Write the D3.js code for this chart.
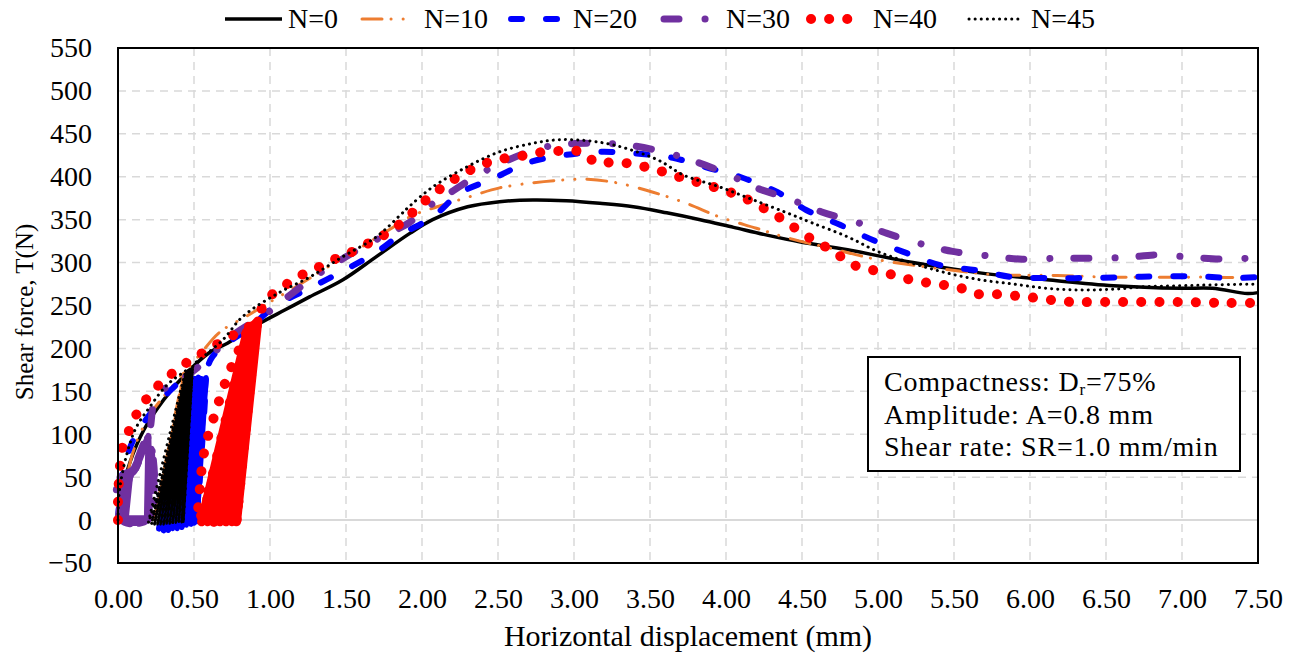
<!DOCTYPE html>
<meta charset="utf-8">
<style>
body { margin: 0; background: #fff; }
text { font-family: "Liberation Serif", "Times New Roman", serif; fill: #000; }
.grid line { stroke: #d9d9d9; stroke-width: 1.5; stroke-dasharray: 8,6; }
.curve, .loops { fill: none; stroke-linejoin: round; }
.note text { font-size: 28px; letter-spacing: 0.8px; }
</style>
<body>
<script src="https://cdn.jsdelivr.net/npm/d3@7/dist/d3.min.js"></script>
<script>

var width = 1297;
var height = 657;
var margin = {top: 48, right: 39, bottom: 94, left: 118};

var xTicks = [0, 0.5, 1, 1.5, 2, 2.5, 3, 3.5, 4, 4.5, 5, 5.5, 6, 6.5, 7, 7.5];
var yTicks = [-50, 0, 50, 100, 150, 200, 250, 300, 350, 400, 450, 500, 550];
var names = ['N=0', 'N=10', 'N=20', 'N=30', 'N=40', 'N=45'];

// [displacement mm, shear force N]; cyclic loops first, then monotonic shearing
var n0 = [[0,0],[0.03,35],[0.08,68],[0.17,105],[0.3,140],[0.45,171],[0.6,195],[0.72,206],[0.93,229],
  [1.1,245],[1.26,260],[1.48,280],[1.7,307],[1.92,334],[2.07,350],[2.3,365],[2.51,371],[2.73,373],
  [2.95,372],[3.17,369],[3.39,365],[3.61,358],[3.83,350],[4.05,341],[4.27,332],[4.49,324],[4.8,315],
  [5.23,300],[5.67,288],[6.11,280],[6.55,273],[6.99,270],[7.2,270],[7.43,264],[7.5,265]];

var n10 = [[0,0],[0.05,45],[0.12,90],[0.22,125],[0.33,150],[0.45,172],[0.24,0],[0.43,168],[0.27,0],
  [0.44,170],[0.3,0],[0.45,171],[0.33,2],[0.46,172],[0.36,2],[0.47,174],[0.39,3],[0.47,175],
  [0.55,195],[0.67,219],[0.85,238],[1.0,254],[1.2,275],[1.4,297],[1.6,318],[1.8,340],[1.94,355],
  [2.1,365],[2.3,376],[2.51,387],[2.73,393],[2.91,396],[3.09,397],[3.28,393],[3.52,382],[3.74,369],
  [3.96,353],[4.2,340],[4.4,329],[4.68,317],[5.01,303],[5.36,294],[5.76,286],[6.18,285],[6.55,283],
  [7.2,283],[7.5,282]];

var n20 = [[0,0],[0.03,55],[0.1,93],[0.23,128],[0.35,152],[0.47,168],[0.27,-10],[0.5,165],[0.3,-12],
  [0.51,165],[0.33,-12],[0.52,165],[0.36,-10],[0.53,166],[0.39,-10],[0.54,165],[0.42,-8],[0.55,165],
  [0.45,-6],[0.56,164],[0.48,-5],[0.57,164],[0.5,-3],[0.58,165],[0.52,-2],[0.58,166],[0.62,190],
  [0.87,225],[1.04,250],[1.26,270],[1.5,292],[1.7,312],[1.855,332],[2.07,353],[2.25,381],[2.47,398],
  [2.69,416],[2.93,425],[3.17,429],[3.41,427],[3.65,422],[3.87,411],[4.09,400],[4.34,382],[4.53,361],
  [4.75,344],[4.97,326],[5.19,311],[5.41,297],[5.65,291],[5.89,283],[6.13,282],[6.37,282],[6.61,283],
  [6.86,284],[7.1,284],[7.32,282],[7.5,283]];

var n30 = [[0,0],[0.03,30],[0.1,58],[0.2,98],[0.2,0],[0.02,0],[0.01,50],[0.1,56],[0.2,96],[0.21,2],
  [0.03,2],[0.03,52],[0.12,60],[0.2,97],[0.19,0],[0.05,0],[0.08,52],[0.2,97],[0.24,140],[0.28,150],
  [0.41,163],[0.56,183],[0.76,216],[0.98,241],[1.13,262],[1.33,288],[1.66,323],[1.92,347],[2.03,364],
  [2.13,375],[2.43,408],[2.82,435],[3.13,439],[3.35,437],[3.59,429],[3.76,420],[4.0,404],[4.2,387],
  [4.42,374],[4.63,359],[4.86,347],[5.06,334],[5.28,322],[5.49,313],[5.72,308],[5.95,304],[6.17,305],
  [6.39,305],[6.63,306],[6.84,309],[7.07,306],[7.3,304],[7.5,306]];

var n40 = [[0,0],[0,22],[0.005,43],[0.03,85],[0.08,107],[0.13,126],[0.2,144],[0.29,161],[0.38,174],
  [0.49,188],[0.59,198],[0.7,210],[0.8,219],[0.88,225],[0.53,0],[0.54,40],[0.57,82],[0.64,125],
  [0.72,167],[0.8,200],[0.86,222],[0.55,-2],[0.85,220],[0.57,0],[0.86,222],[0.59,-2],[0.87,224],
  [0.61,0],[0.87,224],[0.63,-2],[0.88,225],[0.65,0],[0.88,226],[0.67,-2],[0.89,226],[0.69,0],
  [0.89,227],[0.71,-2],[0.9,228],[0.73,0],[0.9,228],[0.75,-2],[0.91,229],[0.77,0],[0.91,230],
  [0.78,-2],[0.92,232],[0.98,257],[1.08,271],[1.18,283],[1.29,292],[1.4,302],[1.51,310],[1.63,321],
  [1.74,331],[1.84,343],[1.93,357],[2.02,372],[2.12,386],[2.22,398],[2.33,409],[2.44,417],[2.56,422],
  [2.68,425],[2.8,429],[2.93,430],[3.05,429],[3.15,416],[3.26,417],[3.38,415],[3.5,410],[3.62,404],
  [3.74,397],[3.85,392],[3.97,385],[4.09,378],[4.2,368],[4.31,357],[4.41,346],[4.51,333],[4.62,322],
  [4.73,310],[4.83,298],[4.95,292],[5.07,287],[5.19,281],[5.31,277],[5.43,274],[5.55,270],[5.67,263],
  [5.8,263],[5.92,261],[6.03,259],[6.16,256],[6.28,254],[6.4,254],[6.6,254],[7.0,254],[7.3,253],[7.5,253]];

var n45 = [[0,0],[0.01,35],[0.06,78],[0.12,108],[0.21,132],[0.32,157],[0.43,172],[0.47,176],[0.2,-3],
  [0.44,170],[0.22,-5],[0.45,172],[0.24,-5],[0.45,173],[0.26,-5],[0.46,174],[0.28,-5],[0.46,174],
  [0.3,-5],[0.47,174],[0.32,-4],[0.47,175],[0.34,-4],[0.47,175],[0.36,-3],[0.48,175],[0.38,-3],
  [0.48,176],[0.4,-2],[0.48,176],[0.42,-2],[0.49,177],[0.43,-2],[0.49,178],[0.56,190],[0.69,210],
  [0.82,237],[1.05,264],[1.26,283],[1.48,307],[1.7,330],[1.855,355],[1.92,366],[2.07,388],[2.3,412],
  [2.51,429],[2.73,439],[2.89,443],[3.09,442],[3.26,437],[3.43,428],[3.57,418],[3.72,402],[3.96,388],
  [4.18,373],[4.4,358],[4.57,346],[4.8,330],[5.01,312],[5.23,299],[5.45,288],[5.67,280],[5.89,275],
  [6.11,270],[6.33,268],[6.55,269],[6.77,272],[6.99,273],[7.2,274],[7.5,275]];

var series = [n0, n10, n20, n30, n40, n45];
// index range of the dense loading/unloading loops (they print as a solid block)
var loopStart = [0, 5, 5, 0, 20, 11];
var loopEnd = [0, 18, 26, 18, 47, 34];

var colors = ['#000000', '#ed7d31', '#0000ff', '#7030a0', '#ff0000', '#000000'];
var widths = [3.5, 3, 6, 7, 10, 3];
var loopWidths = [0, 2.5, 5, 6, 9, 2.5];
var dashes = [null, '20,9,0.1,12,0.1,12', '11,24', '15,26,0.1,24', '0.1,18', '0.1,6'];

var svg = d3.select('body')
  .append('svg')
  .attr('width', width)
  .attr('height', height);

var x = d3.scaleLinear().domain([0, 7.5]).range([margin.left, width - margin.right]);
var y = d3.scaleLinear().domain([-50, 550]).range([height - margin.bottom, margin.top]);

// grid
var grid = svg.append('g').attr('class', 'grid');
grid.selectAll('.vg').data(xTicks.slice(1, -1)).enter().append('line')
  .attr('x1', d => x(d)).attr('x2', d => x(d))
  .attr('y1', y(550)).attr('y2', y(-50));
grid.selectAll('.hg').data(yTicks.filter(d => d !== 0 && d !== -50 && d !== 550)).enter().append('line')
  .attr('y1', d => y(d)).attr('y2', d => y(d))
  .attr('x1', x(0)).attr('x2', x(7.5));
svg.append('line')
  .attr('x1', x(0)).attr('x2', x(7.5))
  .attr('y1', y(0)).attr('y2', y(0))
  .attr('stroke', '#d9d9d9').attr('stroke-width', 2);

// axes, drawn with d3 axis then restyled
var xAxis = svg.append('g')
  .attr('transform', 'translate(0,' + y(-50) + ')')
  .call(d3.axisBottom(x).tickValues(xTicks).tickSize(0).tickPadding(25).tickFormat(d3.format('.2f')));
var yAxis = svg.append('g')
  .attr('transform', 'translate(' + x(0) + ',0)')
  .call(d3.axisLeft(y).tickValues(yTicks).tickSize(0).tickPadding(26));
[xAxis, yAxis].forEach(a => {
  a.select('.domain').remove();
  a.selectAll('text').style('font-family', '"Liberation Serif", serif').style('font-size', '28px').attr('fill', '#000');
});

// curves
var line = d3.line()
  .x(d => x(d[0]))
  .y(d => y(d[1]))
  .curve(d3.curveCatmullRom.alpha(0.5));
var loopLine = d3.line()
  .x(d => x(d[0]))
  .y(d => y(d[1]));

series.forEach(function(pts, i) {
  var g = svg.append('g');
  if (loopEnd[i] > 0) {
    g.append('path')
      .attr('class', 'loops')
      .attr('d', loopLine(pts.slice(loopStart[i], loopEnd[i])))
      .attr('stroke', colors[i])
      .attr('stroke-width', loopWidths[i])
      .attr('stroke-linecap', 'round');
  }
  g.append('path')
    .attr('class', 'curve')
    .attr('d', line(pts))
    .attr('stroke', colors[i])
    .attr('stroke-width', widths[i])
    .attr('stroke-linecap', i === 0 ? 'butt' : 'round')
    .attr('stroke-dasharray', dashes[i]);
});

// frame
svg.append('rect')
  .attr('x', x(0)).attr('y', y(550))
  .attr('width', x(7.5) - x(0)).attr('height', y(-50) - y(550))
  .attr('fill', 'none').attr('stroke', '#000').attr('stroke-width', 2);

// axis titles
svg.append('text')
  .attr('x', (x(0) + x(7.5)) / 2).attr('y', 646)
  .attr('text-anchor', 'middle').style('font-size', '30px')
  .text('Horizontal displacement (mm)');
svg.append('text')
  .attr('transform', 'translate(33,312) rotate(-90)')
  .attr('text-anchor', 'middle').style('font-size', '25px')
  .text('Shear force, T(N)');

// legend
var legendX = [225, 362, 511, 664, 811, 969];
var lg = svg.selectAll('.lg').data(names).enter().append('g')
  .attr('transform', (d, i) => 'translate(' + legendX[i] + ',19)');
lg.append('line')
  .attr('x1', 0).attr('x2', (d, i) => i === 0 ? 57 : 52)
  .attr('stroke', (d, i) => colors[i])
  .attr('stroke-width', (d, i) => widths[i])
  .attr('stroke-linecap', (d, i) => i === 0 ? 'butt' : 'round')
  .attr('stroke-dasharray', (d, i) => dashes[i]);
lg.append('text')
  .attr('x', (d, i) => i === 0 ? 63 : 62).attr('y', 9)
  .style('font-size', '28px')
  .text(d => d);

// annotation box
var note = svg.append('g').attr('class', 'note').attr('transform', 'translate(868,357)');
note.append('rect')
  .attr('width', 372).attr('height', 114)
  .attr('fill', '#fff').attr('stroke', '#000').attr('stroke-width', 2);
var t1 = note.append('text').attr('x', 16).attr('y', 34);
t1.append('tspan').text('Compactness: D');
t1.append('tspan').attr('dy', 4).style('font-size', '17px').text('r');
t1.append('tspan').attr('dy', -4).text('=75%');
note.append('text').attr('x', 16).attr('y', 67).text('Amplitude: A=0.8 mm');
note.append('text').attr('x', 16).attr('y', 99).text('Shear rate: SR=1.0 mm/min');

</script>
</body>
</html>
